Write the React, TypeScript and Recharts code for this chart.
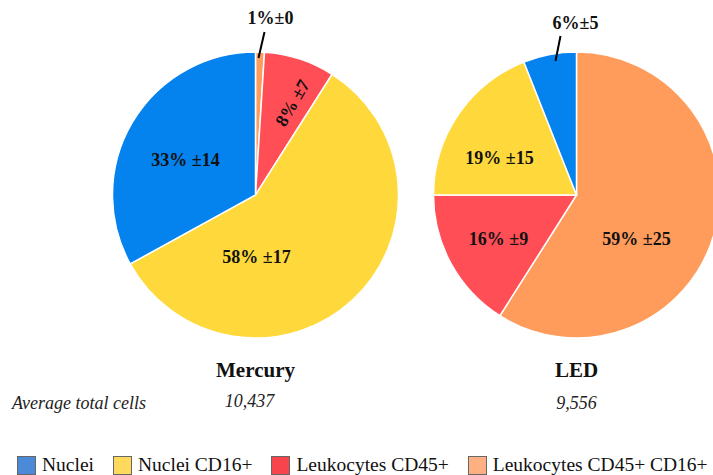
import { PieChart, Pie, Cell } from 'recharts';

const CATEGORIES = ['Nuclei', 'Nuclei CD16+', 'Leukocytes CD45+', 'Leukocytes CD45+ CD16+'];
const SLICE_COLORS = ['#0482EE', '#FFD93C', '#FF4E56', '#FF9B5B'];
const LEGEND_COLORS = ['#4A8AD6', '#FFD95C', '#F8444D', '#FFB083'];

// clockwise from 12 o'clock
const mercuryOrder = [3, 2, 1, 0];
const mercuryMean = [1, 8, 58, 33];
const mercurySd = [0, 7, 17, 14];

const ledOrder = [3, 2, 1, 0];
const ledMean = [59, 16, 19, 6];
const ledSd = [25, 9, 15, 5];

const TITLES = ['Mercury', 'LED'];
const TOTAL_CELLS = ['10,437', '9,556'];

// label placement relative to the pie centre
const mercuryLabels = [
  { dx: 15, dy: -177, tight: true, line: [3, -137, 9, -163] },
  { dx: 37, dy: -92, rotate: -60 },
  { dx: 1, dy: 62 },
  { dx: -70, dy: -35 },
];
const ledLabels = [
  { dx: 60, dy: 44 },
  { dx: -78, dy: 44 },
  { dx: -77, dy: -37 },
  { dx: -1, dy: -172, tight: true, line: [-21, -134, -16, -159] },
];

const buildData = (order: number[], mean: number[], sd: number[]) =>
  order.map((c, i) => ({ name: CATEGORIES[c], cat: c, value: mean[i], sd: sd[i] }));

const mercuryData = buildData(mercuryOrder, mercuryMean, mercurySd);
const ledData = buildData(ledOrder, ledMean, ledSd);

const FONT = '"Liberation Serif", "DejaVu Serif", serif';

const makeLabel = (layout: any[]) => (props: any) => {
  const { cx, cy, index, payload } = props;
  const l = layout[index];
  const x = cx + l.dx;
  const y = cy + l.dy;
  const txt = l.tight ? `${payload.value}%±${payload.sd}` : `${payload.value}% ±${payload.sd}`;
  return (
    <g>
      {l.line && (
        <line
          x1={cx + l.line[0]}
          y1={cy + l.line[1]}
          x2={cx + l.line[2]}
          y2={cy + l.line[3]}
          stroke="#000"
          strokeWidth={2}
        />
      )}
      <text
        x={x}
        y={y}
        textAnchor="middle"
        dominantBaseline="central"
        fontFamily={FONT}
        fontWeight="bold"
        fontSize={18}
        fill="#111"
        transform={l.rotate ? `rotate(${l.rotate} ${x} ${y})` : undefined}
      >
        {txt}
      </text>
    </g>
  );
};

export default function App() {
  const centers = [255.5, 576.5];
  return (
    <div style={{ position: 'absolute', left: 0, top: 0, width: 713, height: 475, background: '#fff', overflow: 'hidden' }}>
      <PieChart width={713} height={475} margin={{ top: 0, right: 0, bottom: 0, left: 0 }}>
        <Pie
          data={mercuryData}
          dataKey="value"
          cx={centers[0]}
          cy={195}
          outerRadius={143}
          startAngle={90}
          endAngle={-270}
          stroke="#fff"
          strokeWidth={1.5}
          labelLine={false}
          label={makeLabel(mercuryLabels)}
          isAnimationActive={false}
        >
          {mercuryData.map((d, i) => (
            <Cell key={`m-${i}`} fill={SLICE_COLORS[d.cat]} />
          ))}
        </Pie>
        <Pie
          data={ledData}
          dataKey="value"
          cx={centers[1]}
          cy={195}
          outerRadius={143}
          startAngle={90}
          endAngle={-270}
          stroke="#fff"
          strokeWidth={1.5}
          labelLine={false}
          label={makeLabel(ledLabels)}
          isAnimationActive={false}
        >
          {ledData.map((d, i) => (
            <Cell key={`l-${i}`} fill={SLICE_COLORS[d.cat]} />
          ))}
        </Pie>
      </PieChart>
      {TITLES.map((t, i) => (
        <div
          key={t}
          style={{
            position: 'absolute',
            left: centers[i] - 100,
            width: 200,
            top: 358,
            textAlign: 'center',
            fontFamily: FONT,
            fontWeight: 'bold',
            fontSize: 21,
            color: '#111',
          }}
        >
          {t}
        </div>
      ))}
      <div style={{ position: 'absolute', left: 12, top: 393, fontFamily: FONT, fontStyle: 'italic', fontSize: 18, color: '#222' }}>
        Average total cells
      </div>
      {TOTAL_CELLS.map((t, i) => (
        <div
          key={t}
          style={{
            position: 'absolute',
            left: centers[i] - 6 * (1 - i) - 100,
            width: 200,
            top: 391 + 2 * i,
            textAlign: 'center',
            fontFamily: FONT,
            fontStyle: 'italic',
            fontSize: 18,
            color: '#222',
          }}
        >
          {t}
        </div>
      ))}
      <div
        style={{
          position: 'absolute',
          left: 17,
          top: 454,
          display: 'flex',
          alignItems: 'center',
          fontFamily: FONT,
          fontSize: 19.5,
          color: '#111',
          whiteSpace: 'nowrap',
        }}
      >
        {CATEGORIES.map((c, i) => (
          <div key={c} style={{ display: 'flex', alignItems: 'center', marginRight: 19 }}>
            <span
              style={{
                display: 'inline-block',
                width: 17,
                height: 17,
                background: LEGEND_COLORS[i],
                border: '1px solid #666',
                marginRight: 6,
              }}
            />
            {c}
          </div>
        ))}
      </div>
    </div>
  );
}
